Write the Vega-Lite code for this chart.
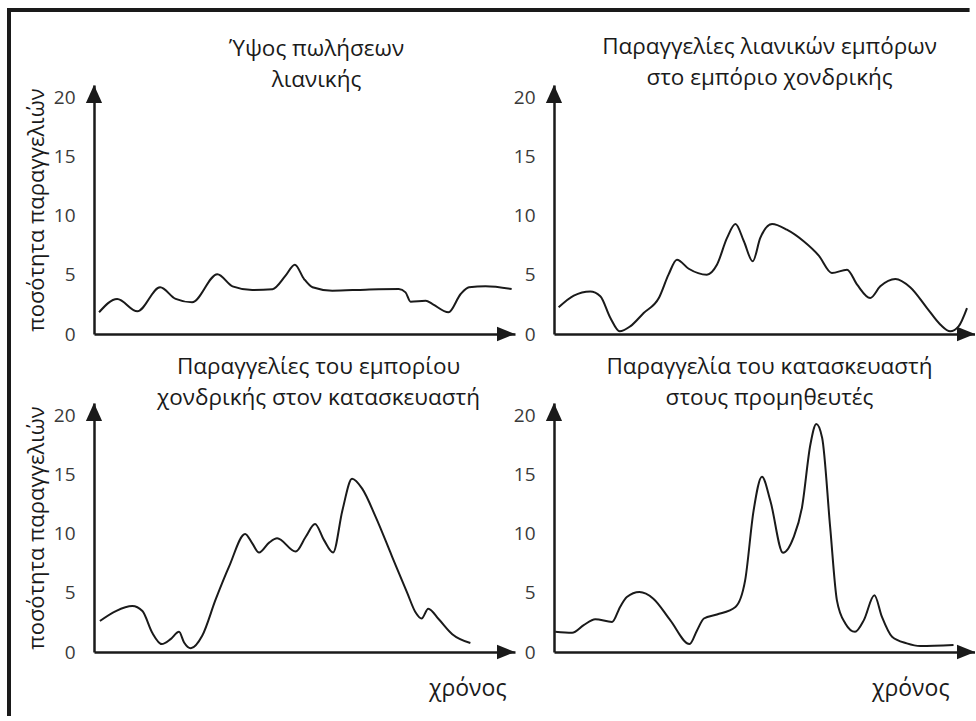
{
  "$schema": "https://vega.github.io/schema/vega-lite/v6.json",
  "background": "white",
  "padding": {"left": 6, "top": 7, "right": 0, "bottom": 0},
  "autosize": {"type": "pad"},
  "datasets": {
    "retail_sales": [
      {"t": 1.2, "q": 1.84}, {"t": 5.5, "q": 2.97}, {"t": 10.3, "q": 1.92}, {"t": 15.7, "q": 3.96}, {"t": 19.4, "q": 2.97}, {"t": 23.3, "q": 2.68}, {"t": 29.3, "q": 5.06}, {"t": 32.9, "q": 4.04}, {"t": 37.6, "q": 3.73}, {"t": 42.4, "q": 3.8}, {"t": 45.5, "q": 4.94}, {"t": 47.7, "q": 5.87}, {"t": 49.9, "q": 4.66}, {"t": 51.9, "q": 3.96}, {"t": 56.6, "q": 3.67}, {"t": 64.5, "q": 3.76}, {"t": 72.4, "q": 3.81}, {"t": 74.0, "q": 3.53}, {"t": 75.2, "q": 2.74}, {"t": 78.8, "q": 2.82}, {"t": 80.4, "q": 2.54}, {"t": 84.2, "q": 1.84}, {"t": 87.1, "q": 3.39}, {"t": 89.1, "q": 3.96}, {"t": 93.0, "q": 4.04}, {"t": 99.2, "q": 3.81}
    ],
    "retailer_orders": [
      {"t": 1.1, "q": 2.26}, {"t": 4.7, "q": 3.25}, {"t": 8.6, "q": 3.6}, {"t": 11.0, "q": 3.2}, {"t": 13.4, "q": 1.36}, {"t": 15.6, "q": 0.23}, {"t": 18.1, "q": 0.65}, {"t": 21.3, "q": 1.78}, {"t": 24.9, "q": 3.05}, {"t": 27.2, "q": 5.03}, {"t": 29.2, "q": 6.3}, {"t": 32.0, "q": 5.53}, {"t": 36.3, "q": 5.03}, {"t": 38.7, "q": 5.87}, {"t": 41.1, "q": 8.14}, {"t": 43.1, "q": 9.32}, {"t": 45.1, "q": 7.86}, {"t": 47.2, "q": 6.16}, {"t": 49.0, "q": 8.14}, {"t": 51.8, "q": 9.32}, {"t": 55.3, "q": 8.84}, {"t": 59.3, "q": 7.86}, {"t": 62.9, "q": 6.64}, {"t": 66.0, "q": 5.17}, {"t": 69.6, "q": 5.45}, {"t": 72.0, "q": 4.18}, {"t": 75.1, "q": 3.05}, {"t": 77.5, "q": 4.04}, {"t": 81.1, "q": 4.66}, {"t": 84.6, "q": 3.96}, {"t": 88.6, "q": 2.2}, {"t": 91.8, "q": 0.79}, {"t": 94.1, "q": 0.23}, {"t": 96.1, "q": 0.65}, {"t": 98.1, "q": 2.2}
    ],
    "wholesaler_orders": [
      {"t": 1.4, "q": 2.63}, {"t": 5.2, "q": 3.47}, {"t": 9.1, "q": 3.89}, {"t": 11.5, "q": 3.47}, {"t": 13.8, "q": 1.65}, {"t": 16.1, "q": 0.67}, {"t": 18.2, "q": 1.09}, {"t": 20.2, "q": 1.71}, {"t": 21.4, "q": 0.8}, {"t": 23.0, "q": 0.31}, {"t": 25.7, "q": 1.37}, {"t": 28.9, "q": 4.45}, {"t": 32.1, "q": 7.25}, {"t": 35.9, "q": 10.0}, {"t": 37.6, "q": 9.2}, {"t": 39.2, "q": 8.43}, {"t": 41.6, "q": 9.27}, {"t": 43.5, "q": 9.64}, {"t": 47.9, "q": 8.51}, {"t": 50.3, "q": 9.77}, {"t": 52.5, "q": 10.84}, {"t": 54.6, "q": 9.5}, {"t": 56.8, "q": 8.43}, {"t": 59.0, "q": 12.0}, {"t": 61.3, "q": 14.68}, {"t": 63.7, "q": 13.84}, {"t": 66.9, "q": 11.45}, {"t": 70.8, "q": 8.09}, {"t": 74.4, "q": 5.01}, {"t": 76.4, "q": 3.34}, {"t": 77.8, "q": 2.83}, {"t": 79.4, "q": 3.67}, {"t": 81.9, "q": 2.77}, {"t": 85.1, "q": 1.51}, {"t": 89.4, "q": 0.76}
    ],
    "manufacturer_orders": [
      {"t": 0.3, "q": 1.71}, {"t": 4.3, "q": 1.63}, {"t": 7.05, "q": 2.27}, {"t": 9.8, "q": 2.78}, {"t": 13.8, "q": 2.55}, {"t": 15.7, "q": 3.82}, {"t": 17.3, "q": 4.66}, {"t": 20.3, "q": 5.08}, {"t": 23.6, "q": 4.52}, {"t": 27.6, "q": 2.7}, {"t": 32.2, "q": 0.67}, {"t": 34.0, "q": 1.85}, {"t": 35.6, "q": 2.84}, {"t": 38.7, "q": 3.18}, {"t": 43.1, "q": 3.82}, {"t": 45.4, "q": 6.07}, {"t": 47.4, "q": 11.96}, {"t": 49.4, "q": 14.85}, {"t": 51.4, "q": 12.8}, {"t": 54.4, "q": 8.4}, {"t": 56.9, "q": 9.71}, {"t": 58.9, "q": 12.24}, {"t": 60.9, "q": 17.58}, {"t": 62.3, "q": 19.32}, {"t": 63.7, "q": 18.14}, {"t": 65.6, "q": 10.56}, {"t": 67.2, "q": 4.38}, {"t": 69.2, "q": 2.42}, {"t": 71.5, "q": 1.71}, {"t": 73.6, "q": 2.7}, {"t": 76.1, "q": 4.8}, {"t": 77.9, "q": 2.97}, {"t": 80.3, "q": 1.29}, {"t": 83.8, "q": 0.73}, {"t": 87.0, "q": 0.51}, {"t": 94.9, "q": 0.59}
    ]
  },
  "columns": 2,
  "bounds": "flush",
  "spacing": {"row": 69, "column": 39},
  "concat": [
    {
      "width": 421, "height": 249,
      "title": {"text": ["Ύψος πωλήσεων", "λιανικής"], "dx": 12, "offset": -84},
      "layer": [
        {
          "data": {"name": "retail_sales"},
          "mark": {"type": "line", "interpolate": "monotone", "color": "#1a1a1a", "strokeWidth": 2},
          "encoding": {
            "x": {"field": "t", "type": "quantitative", "scale": {"domain": [0, 100], "nice": false}, "axis": {"labels": false, "title": null}},
            "y": {"field": "q", "type": "quantitative", "scale": {"domain": [0, 21.1], "nice": false}, "axis": {"values": [0, 5, 10, 15, 20], "labelPadding": 19, "title": "ποσότητα παραγγελιών", "titlePadding": 5}}
          }
        },
        {"data": {"values": [{}]}, "mark": {"type": "point", "shape": "M0,0L0.9,2L-0.9,2Z", "filled": true, "size": 324, "color": "#1a1a1a", "opacity": 1}, "encoding": {"x": {"datum": 0}, "y": {"datum": 21.1}}},
        {"data": {"values": [{}]}, "mark": {"type": "point", "shape": "M0,0L-2,-0.8L-2,0.8Z", "filled": true, "size": 324, "color": "#1a1a1a", "opacity": 1}, "encoding": {"x": {"datum": 100}, "y": {"datum": 0}}},
        {"data": {"values": [{}]}, "mark": {"type": "rule", "color": "#1a1a1a", "strokeWidth": 4, "strokeCap": "square"}, "encoding": {"x": {"datum": -20.19}, "x2": {"datum": 207.5}, "y": {"datum": 27.46}}},
        {"data": {"values": [{}]}, "mark": {"type": "rule", "color": "#1a1a1a", "strokeWidth": 4, "strokeCap": "square"}, "encoding": {"x": {"datum": -20.19}, "y": {"datum": 27.46}, "y2": {"datum": -32.2}}}
      ]
    },
    {
      "width": 421, "height": 249,
      "title": {"text": ["Παραγγελίες λιανικών εμπόρων", "στο εμπόριο χονδρικής"], "dx": 5, "offset": -4},
      "layer": [
        {
          "data": {"name": "retailer_orders"},
          "mark": {"type": "line", "interpolate": "monotone", "color": "#1a1a1a", "strokeWidth": 2},
          "encoding": {
            "x": {"field": "t", "type": "quantitative", "scale": {"domain": [0, 100], "nice": false}, "axis": {"labels": false, "title": null}},
            "y": {"field": "q", "type": "quantitative", "scale": {"domain": [0, 21.1], "nice": false}, "axis": {"values": [0, 5, 10, 15, 20], "labelPadding": 19, "title": null}}
          }
        },
        {"data": {"values": [{}]}, "mark": {"type": "point", "shape": "M0,0L0.9,2L-0.9,2Z", "filled": true, "size": 324, "color": "#1a1a1a", "opacity": 1}, "encoding": {"x": {"datum": 0}, "y": {"datum": 21.1}}},
        {"data": {"values": [{}]}, "mark": {"type": "point", "shape": "M0,0L-2,-0.8L-2,0.8Z", "filled": true, "size": 324, "color": "#1a1a1a", "opacity": 1}, "encoding": {"x": {"datum": 100}, "y": {"datum": 0}}}
      ]
    },
    {
      "width": 421, "height": 249,
      "title": {"text": ["Παραγγελίες του εμπορίου", "χονδρικής στον κατασκευαστή"], "dx": 14, "offset": -6},
      "layer": [
        {
          "data": {"name": "wholesaler_orders"},
          "mark": {"type": "line", "interpolate": "monotone", "color": "#1a1a1a", "strokeWidth": 2},
          "encoding": {
            "x": {"field": "t", "type": "quantitative", "scale": {"domain": [0, 100], "nice": false}, "axis": {"labels": false, "title": "χρόνος", "titleX": 412, "titleAlign": "right", "titleAnchor": "end", "titlePadding": 25, "titleFontSize": 23}},
            "y": {"field": "q", "type": "quantitative", "scale": {"domain": [0, 21.1], "nice": false}, "axis": {"values": [0, 5, 10, 15, 20], "labelPadding": 19, "title": "ποσότητα παραγγελιών", "titlePadding": 5}}
          }
        },
        {"data": {"values": [{}]}, "mark": {"type": "point", "shape": "M0,0L0.9,2L-0.9,2Z", "filled": true, "size": 324, "color": "#1a1a1a", "opacity": 1}, "encoding": {"x": {"datum": 0}, "y": {"datum": 21.1}}},
        {"data": {"values": [{}]}, "mark": {"type": "point", "shape": "M0,0L-2,-0.8L-2,0.8Z", "filled": true, "size": 324, "color": "#1a1a1a", "opacity": 1}, "encoding": {"x": {"datum": 100}, "y": {"datum": 0}}}
      ]
    },
    {
      "width": 421, "height": 249,
      "title": {"text": ["Παραγγελία του κατασκευαστή", "στους προμηθευτές"], "dx": 5, "offset": -6},
      "layer": [
        {
          "data": {"name": "manufacturer_orders"},
          "mark": {"type": "line", "interpolate": "monotone", "color": "#1a1a1a", "strokeWidth": 2},
          "encoding": {
            "x": {"field": "t", "type": "quantitative", "scale": {"domain": [0, 100], "nice": false}, "axis": {"labels": false, "title": "χρόνος", "titleX": 395, "titleAlign": "right", "titleAnchor": "end", "titlePadding": 25, "titleFontSize": 23}},
            "y": {"field": "q", "type": "quantitative", "scale": {"domain": [0, 21.1], "nice": false}, "axis": {"values": [0, 5, 10, 15, 20], "labelPadding": 19, "title": null}}
          }
        },
        {"data": {"values": [{}]}, "mark": {"type": "point", "shape": "M0,0L0.9,2L-0.9,2Z", "filled": true, "size": 324, "color": "#1a1a1a", "opacity": 1}, "encoding": {"x": {"datum": 0}, "y": {"datum": 21.1}}},
        {"data": {"values": [{}]}, "mark": {"type": "point", "shape": "M0,0L-2,-0.8L-2,0.8Z", "filled": true, "size": 324, "color": "#1a1a1a", "opacity": 1}, "encoding": {"x": {"datum": 100}, "y": {"datum": 0}}}
      ]
    }
  ],
  "config": {
    "view": {"stroke": null},
    "font": "Open Sans",
    "title": {"font": "Open Sans", "fontSize": 22.5, "fontWeight": "normal", "color": "#1a1a1a", "lineHeight": 31, "anchor": "middle", "frame": "group"},
    "axis": {
      "ticks": false, "grid": false,
      "domainColor": "#1a1a1a", "domainWidth": 2.5,
      "labelFont": "Open Sans", "labelFontSize": 19, "labelColor": "#3a3a3a",
      "titleFont": "Open Sans", "titleFontSize": 22, "titleFontWeight": "normal", "titleColor": "#1a1a1a"
    }
  }
}
